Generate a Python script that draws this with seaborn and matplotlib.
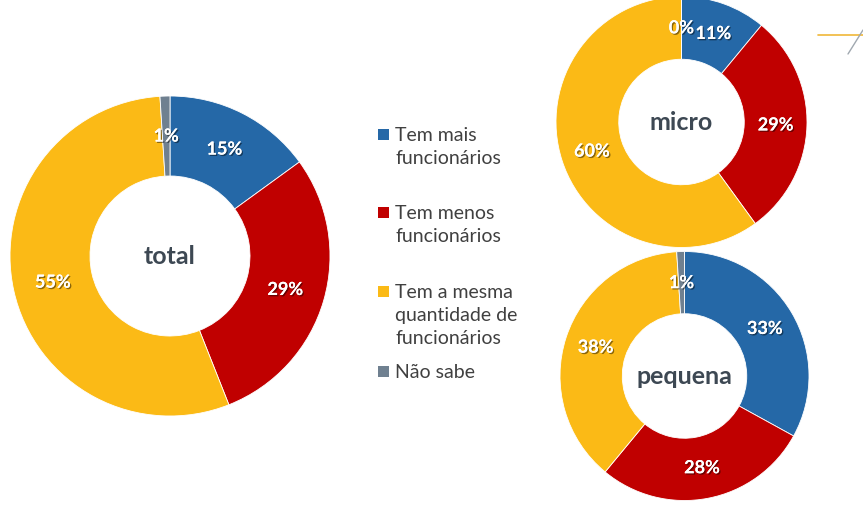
import matplotlib
matplotlib.use("Agg")
import matplotlib.pyplot as plt
import matplotlib.patheffects as pe
from matplotlib.lines import Line2D
from matplotlib.patches import Rectangle
import seaborn as sns

# Data
categories = ["Tem mais\nfuncionários", "Tem menos\nfuncionários",
              "Tem a mesma\nquantidade de\nfuncionários", "Não sabe"]
total = [15, 29, 55, 1]
micro = [11, 29, 60, 0]
pequena = [33, 28, 38, 1]
colors = ["#2568A7", "#C00000", "#FBBA16", "#6F8090"]

sns.set_theme(style="white")
plt.rcParams['font.family'] = ['Lato', 'DejaVu Sans']

W, H = 863, 506
fig = plt.figure(figsize=(W / 100, H / 100), dpi=100)
fig.patch.set_facecolor("white")

shadow = [pe.withSimplePatchShadow(offset=(1, -1), shadow_rgbFace="black", alpha=0.45),
          pe.Normal()]


# Draw one donut, centre (cx, cy) and radius r in pixels from top-left
def donut(values, name, cx, cy, r):
    ax = fig.add_axes([(cx - r) / W, (H - cy - r) / H, 2 * r / W, 2 * r / H])
    wedges, _, autotexts = ax.pie(values, colors=colors, startangle=90, counterclock=False,
                                  autopct=lambda p: f"{p:.0f}%", pctdistance=0.75,
                                  wedgeprops=dict(width=0.5, edgecolor="white", linewidth=0.6))
    for t in autotexts:
        t.set_color("white")
        t.set_fontsize(13)
        t.set_fontweight("bold")
        t.set_path_effects(shadow)
    ax.text(0, 0, name, ha="center", va="center", fontsize=18, fontweight="bold",
            color="#3D4853")
    ax.set_xlim(-1, 1)
    ax.set_ylim(-1, 1)
    ax.axis("off")


donut(total, "total", 170, 257, 160)
donut(micro, "micro", 681.5, 123, 125.5)
donut(pequena, "pequena", 684.5, 377, 124.5)

# Legend
legend_tops = [135, 213, 292, 372]
for label, color, y in zip(categories, colors, legend_tops):
    fig.add_artist(Rectangle(((378) / W, (H - y - 6) / H), 11 / W, 11 / H,
                             transform=fig.transFigure, facecolor=color, edgecolor="none"))
    fig.text(395 / W, (H - y + 8) / H, label, ha="left", va="top", fontsize=14,
             color="#404040", linespacing=1.42)

# decorative lines top right
fig.add_artist(Line2D([818 / W, 1], [(H - 36) / H, (H - 36) / H], transform=fig.transFigure,
                      color="#F0B838", linewidth=1.2))
fig.add_artist(Line2D([848 / W, 863 / W], [(H - 55) / H, (H - 31) / H], transform=fig.transFigure,
                      color="#A0A8B0", linewidth=1))

fig.savefig("out.png", dpi=100, facecolor="white")
